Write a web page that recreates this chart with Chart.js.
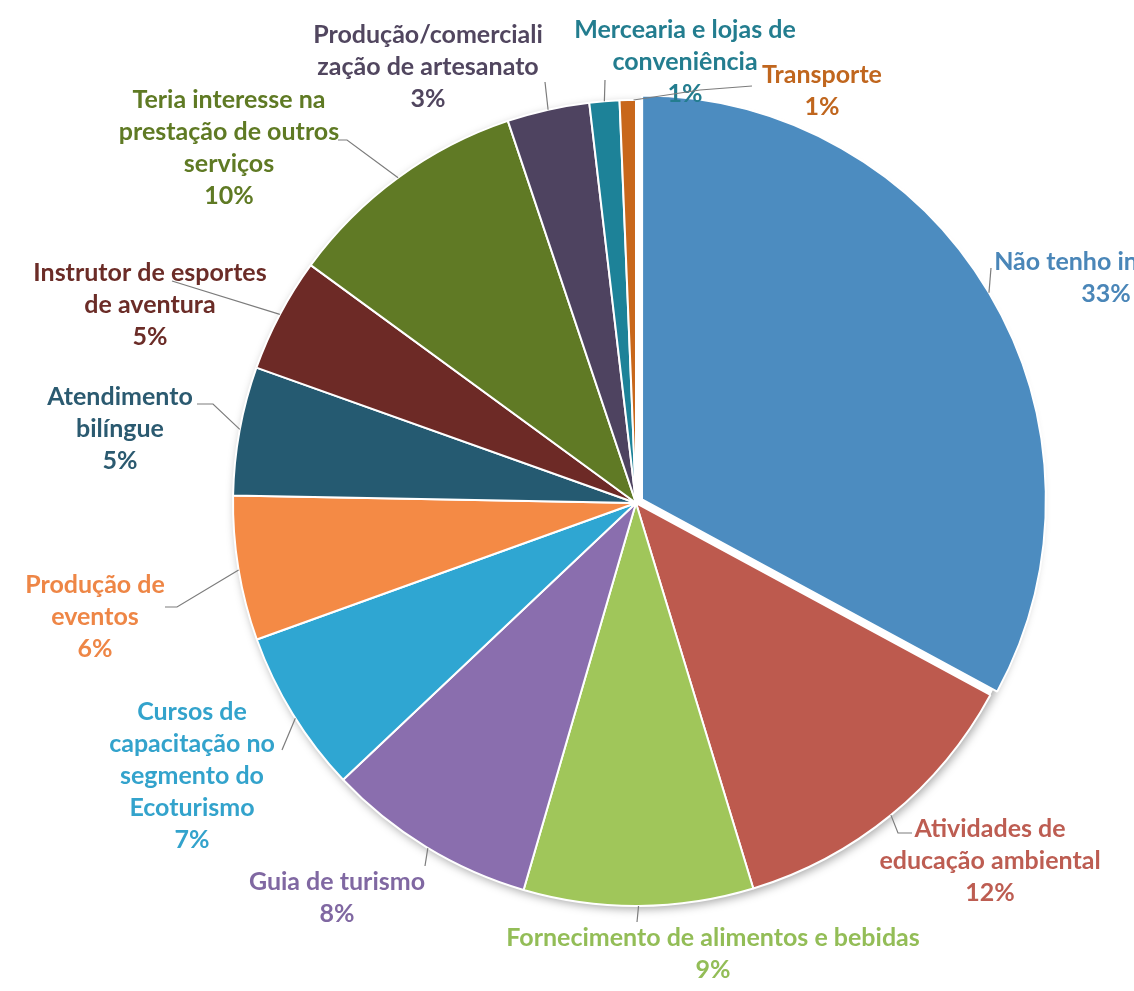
<!DOCTYPE html>
<html><head><meta charset="utf-8">
<script src="https://cdn.jsdelivr.net/npm/chart.js@4.4.0/dist/chart.umd.min.js"></script>
<style>html,body{margin:0;padding:0;background:#fff;overflow:hidden}canvas{display:block}</style>
</head><body>
<canvas id="c" width="1134" height="991"></canvas>
<script>
// ---- data ----
const categories = [
  "Não tenho interesse",
  "Atividades de educação ambiental",
  "Fornecimento de alimentos e bebidas",
  "Guia de turismo",
  "Cursos de capacitação no segmento do Ecoturismo",
  "Produção de eventos",
  "Atendimento bilíngue",
  "Instrutor de esportes de aventura",
  "Teria interesse na prestação de outros serviços",
  "Produção/comercialização de artesanato",
  "Mercearia e lojas de conveniência",
  "Transporte"
];
const values = [32.9, 12.4, 9.2, 8.45, 6.55, 5.8, 5.15, 4.6, 9.8, 3.3, 1.2, 0.65];
// label text broken into lines as in the original chart
const labelLines = [
  ["Não tenho interesse"],
  ["Atividades de", "educação ambiental"],
  ["Fornecimento de alimentos e bebidas"],
  ["Guia de turismo"],
  ["Cursos de", "capacitação no", "segmento do", "Ecoturismo"],
  ["Produção de", "eventos"],
  ["Atendimento", "bilíngue"],
  ["Instrutor de esportes", "de aventura"],
  ["Teria interesse na", "prestação de outros", "serviços"],
  ["Produção/comerciali", "zação de artesanato"],
  ["Mercearia e lojas de", "conveniência"],
  ["Transporte"]
];

// ---- styles / layout ----
const sliceColors = ["#4c8cc0","#bd5a4e","#a0c65a","#8a6eae","#2fa6d2","#f48a45","#255a71","#6d2a26","#607a25","#4e4360","#1d8298","#c8671b"];
const textColors  = ["#4a86b8","#bd5d52","#93bd57","#8068a2","#33a3cc","#ee8646","#2b5a70","#6b2c27","#5f7a24","#51465f","#237d8f","#c0661e"];
const labelPos = [[1106,262],[990,829],[713,938],[337,882],[192,712],[95,585],[120,397],[150,273],[229,100],[428,35],[685,30],[822,75]];
const leaderFrac = [0.5,0.5,0.5,0.49,0.47,0.49,0.51,0.5,0.5,0.5,0.5,0.85];
const leaderPts = [
  [[991,268]],
  [[898,833],[912,833]],
  [[637,922]],
  [[425,866]],
  [[282,750]],
  [[177,607],[165,607]],
  [[213,404],[197,404]],
  [[172,281]],
  [[347,140],[338,140]],
  [[545,82]],
  [[605,80]],
  [[700,90],[752,86]]
];
const offsets = [28,0,0,0,0,0,0,0,0,0,0,0];
const FONT = "bold 25px Lato";
const LINE_H = 32;

const labelPlugin = {
  id: 'outLabels',
  beforeDatasetsDraw(chart) {
    const a = chart.getDatasetMeta(0).data[0];
    const ctx = chart.ctx;
    ctx.save();
    ctx.shadowColor = 'rgba(0,0,0,0.35)';
    ctx.shadowBlur = 10; ctx.shadowOffsetX = 2; ctx.shadowOffsetY = 3;
    ctx.fillStyle = '#ffffff';
    ctx.beginPath(); ctx.arc(a.x, a.y, a.outerRadius, 0, Math.PI*2); ctx.fill();
    ctx.restore();
  },
  afterDatasetsDraw(chart) {
    const meta = chart.getDatasetMeta(0);
    const ctx = chart.ctx;
    const total = values.reduce((s,v)=>s+v,0);
    meta.data.forEach((arc, i) => {
      const {x, y, startAngle, endAngle, outerRadius, circumference} =
        arc.getProps(['x','y','startAngle','endAngle','outerRadius','circumference'], true);
      const off = (arc.options.offset || 0) / 4;
      const fix = 1 - Math.sin(Math.min(Math.PI, circumference || 0));
      const t = off + off*fix;
      const mid = (startAngle + endAngle)/2;
      const ox = x + Math.cos(mid)*t, oy = y + Math.sin(mid)*t;
      const ang = startAngle + (endAngle - startAngle)*leaderFrac[i];
      const px = ox + Math.cos(ang)*outerRadius, py = oy + Math.sin(ang)*outerRadius;
      ctx.save();
      ctx.strokeStyle = '#7c7c7c'; ctx.lineWidth = 1.2;
      ctx.beginPath(); ctx.moveTo(px, py);
      leaderPts[i].forEach(p => ctx.lineTo(p[0], p[1]));
      ctx.stroke();
      const lines = labelLines[i].concat([Math.round(values[i]/total*100) + '%']);
      ctx.font = FONT; ctx.fillStyle = textColors[i];
      ctx.textAlign = 'center'; ctx.textBaseline = 'middle';
      lines.forEach((s,k) => ctx.fillText(s, labelPos[i][0], labelPos[i][1] + k*LINE_H));
      ctx.restore();
    });
  }
};

new Chart(document.getElementById('c'), {
  type: 'pie',
  data: {
    labels: categories,
    datasets: [{
      data: values,
      backgroundColor: sliceColors,
      borderColor: '#ffffff',
      borderWidth: 2,
      offset: offsets,
      hoverOffset: 0
    }]
  },
  options: {
    responsive: false,
    devicePixelRatio: 1,
    animation: false,
    events: [],
    radius: 403,
    layout: { padding: { left: 148, right: 10, top: 15, bottom: 0 } },
    plugins: { legend: { display: false }, tooltip: { enabled: false } }
  },
  plugins: [labelPlugin]
});
</script>
</body></html>
